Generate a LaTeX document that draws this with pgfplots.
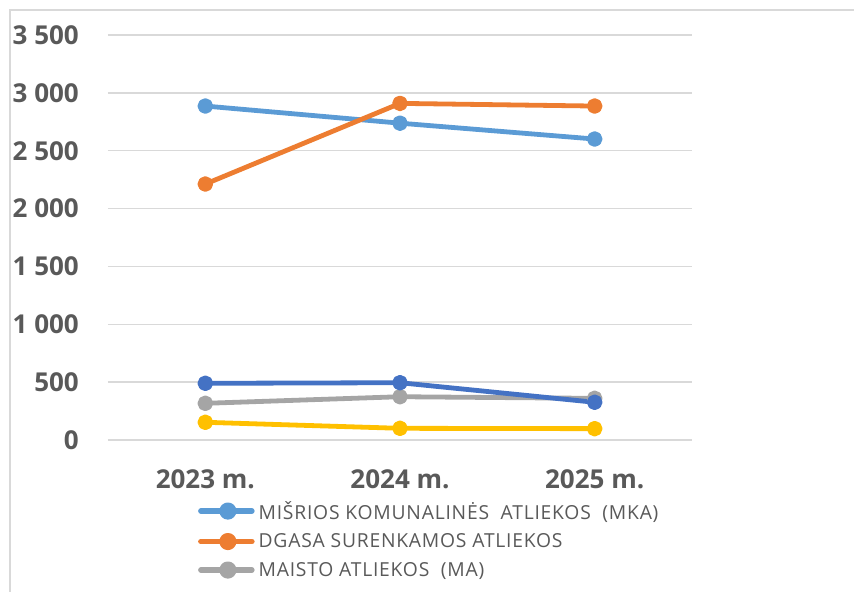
\documentclass[border=0pt]{standalone}
\usepackage{fontspec}
\setmainfont{Open Sans}
\newfontfamily\legfont[LetterSpace=4]{Open Sans}
\usepackage{pgfplots}
\pgfplotsset{compat=1.18}
\definecolor{cMKA}{HTML}{5B9BD5}
\definecolor{cDG}{HTML}{ED7D31}
\definecolor{cMA}{HTML}{A5A5A5}
\definecolor{cDB}{HTML}{4472C4}
\definecolor{cY}{HTML}{FFC000}
\definecolor{gridc}{HTML}{D9D9D9}
\definecolor{txt}{HTML}{595959}
\begin{document}
\begin{tikzpicture}
\path[use as bounding box] (-108bp,-152bp) rectangle (746bp,440bp);
\draw[color=gridc, line width=1.3bp] (-98bp,-170bp) -- (-98bp,430bp) -- (770bp,430bp);
\begin{axis}[
  scale only axis,
  width=584bp, height=405bp,
  xmin=-0.5, xmax=2.5, ymin=0, ymax=3500,
  xtick={0,1,2}, xticklabels={2023 m.,2024 m.,2025 m.},
  ytick={0,500,...,3500},
  axis line style={draw=none},
  major tick style={draw=none},
  ymajorgrids,
  major grid style={color=gridc, line width=1.3bp},
  /pgf/number format/assume math mode=true,
  /pgf/number format/1000 sep={\ },
  ticklabel style={font=\fontsize{26bp}{30bp}\selectfont\bfseries, text=txt},
  yticklabel style={anchor=east, inner sep=0pt, xshift=-29bp},
  xticklabel style={anchor=north, inner sep=0pt, yshift=-29bp},
  legend style={at={(axis description cs:0.154,-0.146)}, anchor=north west, draw=none, fill=none, inner sep=0pt,
    font=\legfont\fontsize{19.3bp}{23bp}\selectfont, text=txt, row sep=9bp,
    nodes={inner sep=2bp},
    /tikz/every odd column/.append style={column sep=2bp}},
  legend cell align=left,
  legend image code/.code={\draw[mark repeat=2,mark phase=2,line width=5.5bp,line cap=round,#1,line width=5.5bp,mark size=5.8bp] plot coordinates {(2bp,0bp) (29bp,0bp) (53bp,0bp)};},
  every axis plot/.append style={line width=4.8bp, line cap=round, line join=round, mark=*, mark size=5.4bp, mark options={solid}},
]
\addplot[color=cMKA] coordinates {(0,2886) (1,2738) (2,2601)};
\addplot[color=cDG] coordinates {(0,2212) (1,2909) (2,2886)};
\addplot[color=cMA] coordinates {(0,317) (1,374) (2,360)};
\addplot[color=cDB] coordinates {(0,490) (1,495) (2,326)};
\addplot[color=cY] coordinates {(0,153) (1,101) (2,98)};
\legend{MIŠRIOS KOMUNALINĖS~ ATLIEKOS~ (MKA),DGASA SURENKAMOS ATLIEKOS,MAISTO ATLIEKOS~ (MA)}
\end{axis}
\end{tikzpicture}
\end{document}
